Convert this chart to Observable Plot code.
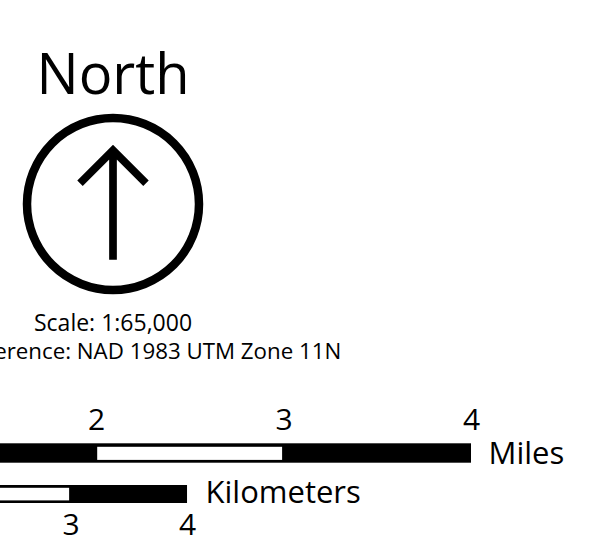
<!DOCTYPE html>
<html><head><meta charset="utf-8">
<script src="https://cdn.jsdelivr.net/npm/d3@7"></script>
<script src="https://cdn.jsdelivr.net/npm/@observablehq/plot@0.6"></script>
<style>html,body{margin:0;padding:0;background:#fff;overflow:hidden}</style>
</head><body><div id="chart"></div>
<script>
// ---- data ----
const titleText = "North";
const scaleText = "Scale: 1:65,000";
const referenceText = "Spatial Reference: NAD 1983 UTM Zone 11N";
const milesTicks = [0, 1, 2, 3, 4];
const kmTicks = [0, 1, 2, 3, 4];
const segmentFills = ["white", "black", "white", "black"];
const milesUnit = "Miles";
const kmUnit = "Kilometers";
const MILES_PER_KM = 0.621371;

// ---- derived tables ----
const segs = (ticks, f) => ticks.slice(0, -1).map((t, i) => ({start: f(t), end: f(ticks[i + 1]), fill: segmentFills[i]}));
const milesSegs = segs(milesTicks, d => d);
const kmSegs = segs(kmTicks, d => d * MILES_PER_KM);
const milesBar = [{start: milesTicks[0], end: milesTicks[milesTicks.length - 1]}];
const kmBar = [{start: kmTicks[0] * MILES_PER_KM, end: kmTicks[kmTicks.length - 1] * MILES_PER_KM}];

// north arrow glyph as a custom dot symbol
const arrowSymbol = {
  draw(context, size) {
    const k = Math.sqrt(size / Math.PI) / 86;
    context.moveTo(0, 55.8 * k);
    context.lineTo(0, -53.8 * k);
    context.moveTo(-33 * k, -20.8 * k);
    context.lineTo(0, -53.8 * k);
    context.lineTo(33 * k, -20.8 * k);
  }
};

const font = "'Open Sans', sans-serif";
const cx = 112.5;

const plot = Plot.plot({
  width: 599, height: 553, margin: 0,
  x: {domain: [0, 4], range: [-279, 471], axis: null},
  y: {type: "identity", axis: null},
  style: {fontFamily: font, background: "white", color: "black", overflow: "hidden"},
  marks: [
    Plot.text([titleText], {frameAnchor: "top-left", dx: cx, dy: 93, text: d => d, fontSize: 56, textAnchor: "middle", lineAnchor: "bottom", fill: "black"}),
    Plot.dot([0], {frameAnchor: "top-left", dx: cx, dy: 203.5, r: 86, stroke: "black", strokeWidth: 8.5, fill: "none"}),
    Plot.dot([0], {frameAnchor: "top-left", dx: cx, dy: 203.5, r: 86, symbol: arrowSymbol, stroke: "black", strokeWidth: 7.7, fill: "none", strokeLinejoin: "miter", strokeLinecap: "butt"}),
    Plot.text([scaleText], {frameAnchor: "top-left", dx: cx, dy: 330, text: d => d, fontSize: 23, textAnchor: "middle", lineAnchor: "bottom", fill: "black"}),
    Plot.text([referenceText], {frameAnchor: "top-left", dx: cx, dy: 358, text: d => d, fontSize: 22.3, textAnchor: "middle", lineAnchor: "bottom", fill: "black"}),

    // miles bar
    Plot.rect(milesBar, {x1: "start", x2: "end", y1: 443.3, y2: 462.7, fill: "black"}),
    Plot.rect(milesSegs.filter(d => d.fill === "white"), {x1: "start", x2: "end", y1: 443.3, y2: 462.7, fill: "white", insetTop: 3.5, insetBottom: 2.8, insetLeft: 1.2, insetRight: 1.4}),
    Plot.text(milesTicks, {x: d => d, y: 429.5, text: d => String(d), fontSize: 30, textAnchor: "middle", lineAnchor: "bottom", fill: "black"}),
    Plot.text([milesUnit], {x: () => milesBar[0].end, y: 463, text: d => d, dx: 17, fontSize: 31, textAnchor: "start", lineAnchor: "bottom", fill: "black"}),

    // km bar
    Plot.rect(kmBar, {x1: "start", x2: "end", y1: 485, y2: 503, fill: "black"}),
    Plot.rect(kmSegs.filter(d => d.fill === "white"), {x1: "start", x2: "end", y1: 485, y2: 503, fill: "white", insetTop: 2.8, insetBottom: 2.6, insetLeft: 1.2, insetRight: 1.4}),
    Plot.text(kmTicks, {x: d => d * MILES_PER_KM, y: 534.5, text: d => String(d), fontSize: 30, textAnchor: "middle", lineAnchor: "bottom", fill: "black"}),
    Plot.text([kmUnit], {x: () => kmBar[0].end, y: 502.5, text: d => d, dx: 18, fontSize: 31, textAnchor: "start", lineAnchor: "bottom", fill: "black"})
  ]
});
document.getElementById("chart").appendChild(plot);
</script>
</body></html>
